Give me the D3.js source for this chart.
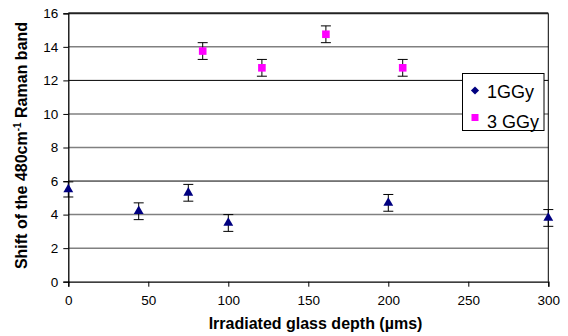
<!DOCTYPE html>
<html>
<head>
<meta charset="utf-8">
<script src="https://cdn.jsdelivr.net/npm/d3@7"></script>
<style>
  body { margin: 0; background: #fff; }
  text { font-family: "Liberation Sans", Arial, sans-serif; }
</style>
</head>
<body>
<svg width="568" height="336"></svg>
<script>
// 1 GGy series (triangles)
const depth1 = [0, 44, 75, 100, 200, 300];
const shift1 = [5.5, 4.2, 5.3, 3.5, 4.7, 3.8];
const err1 = [0.45, 0.5, 0.5, 0.5, 0.5, 0.5];

// 3 GGy series (squares)
const depth3 = [84, 121, 161, 209];
const shift3 = [13.75, 12.75, 14.75, 12.75];
const err3 = [0.5, 0.5, 0.5, 0.5];

const xTicks = [0, 50, 100, 150, 200, 250, 300];
const yTicks = [0, 2, 4, 6, 8, 10, 12, 14, 16];
const seriesNames = ["1GGy", "3 GGy"];

const svg = d3.select("svg"),
  plotLeft = 68.3, plotRight = 548.3, plotTop = 13.3, plotBottom = 281.7;

const x = d3.scaleLinear().domain([0, 300]).range([plotLeft, plotRight]);
const y = d3.scaleLinear().domain([0, 16]).range([plotBottom, plotTop]);

// gridlines
svg.append("g")
  .selectAll("line")
  .data(yTicks.filter(d => d > 0 && d < 16))
  .join("line")
  .attr("x1", plotLeft).attr("x2", plotRight)
  .attr("y1", d => y(d)).attr("y2", d => y(d))
  .attr("stroke", d => (d === 12 || d === 6) ? "#000" : "#808080")
  .attr("stroke-width", d => (d === 12 || d === 6) ? 1 : 1.5);

// frame top / right
svg.append("line").attr("x1", plotLeft).attr("x2", plotRight).attr("y1", y(16)).attr("y2", y(16))
  .attr("stroke", "#222").attr("stroke-width", 2);
svg.append("line").attr("x1", plotRight).attr("x2", plotRight).attr("y1", plotTop).attr("y2", plotBottom)
  .attr("stroke", "#000").attr("stroke-width", 1);

// axes
const yAxis = svg.append("g")
  .attr("transform", `translate(${plotLeft},0)`)
  .call(d3.axisLeft(y).tickValues(yTicks).tickSize(5).tickPadding(5).tickFormat(d3.format("d")));
const xAxis = svg.append("g")
  .attr("transform", `translate(0,${plotBottom})`)
  .call(d3.axisBottom(x).tickValues(xTicks).tickSize(5).tickPadding(9).tickFormat(d3.format("d")));

[xAxis, yAxis].forEach(a => {
  a.select(".domain").attr("stroke", "#000").attr("stroke-width", 1.3);
  a.selectAll(".tick line").attr("stroke", "#000");
  a.selectAll("text").attr("font-size", 13.5).attr("fill", "#000")
    .style("font-family", "'Liberation Sans', Arial, sans-serif");
});

// error bars
function errorBars(xs, ys, es) {
  const g = svg.append("g").attr("stroke", "#000").attr("stroke-width", 1);
  xs.forEach((d, i) => {
    const cx = x(d), y1 = y(ys[i] + es[i]), y2 = y(ys[i] - es[i]);
    g.append("line").attr("x1", cx).attr("x2", cx).attr("y1", y1).attr("y2", y2);
    g.append("line").attr("x1", cx - 5).attr("x2", cx + 5).attr("y1", y1).attr("y2", y1);
    g.append("line").attr("x1", cx - 5).attr("x2", cx + 5).attr("y1", y2).attr("y2", y2);
  });
}
errorBars(depth1, shift1, err1);
errorBars(depth3, shift3, err3);

// markers
const tri = d3.symbol().type(d3.symbolTriangle).size(42);
svg.append("g").selectAll("path")
  .data(depth1)
  .join("path")
  .attr("d", tri)
  .attr("transform", (d, i) => `translate(${x(d)},${y(shift1[i])})`)
  .attr("fill", "#000080");

svg.append("g").selectAll("rect")
  .data(depth3)
  .join("rect")
  .attr("x", d => x(d) - 3.8)
  .attr("y", (d, i) => y(shift3[i]) - 3.8)
  .attr("width", 7.6).attr("height", 7.6)
  .attr("fill", "#ff00ff");

// legend
const lg = svg.append("g").attr("transform", "translate(462.5,73.5)");
lg.append("rect").attr("width", 81.5).attr("height", 57)
  .attr("fill", "#fff").attr("stroke", "#000").attr("stroke-width", 1);
lg.append("rect")
  .attr("x", -2.9).attr("y", -2.9).attr("width", 5.8).attr("height", 5.8)
  .attr("transform", "translate(12.5,17) rotate(45)")
  .attr("fill", "#000080");
lg.append("rect").attr("x", 9).attr("y", 40.5).attr("width", 7).attr("height", 7)
  .attr("fill", "#ff00ff");
lg.selectAll("text.lbl")
  .data(seriesNames)
  .join("text")
  .attr("class", "lbl")
  .attr("x", 24.5)
  .attr("y", (d, i) => 24.5 + i * 29.5)
  .attr("font-size", 18)
  .attr("fill", "#000")
  .text(d => d);

// axis titles
svg.append("text")
  .attr("x", 315.5).attr("y", 329)
  .attr("text-anchor", "middle")
  .attr("font-size", 16).attr("font-weight", "bold")
  .text("Irradiated glass depth (\u00b5ms)");

const yt = svg.append("text")
  .attr("transform", "translate(27,145.5) rotate(-90)")
  .attr("text-anchor", "middle")
  .attr("font-size", 16).attr("font-weight", "bold");
yt.append("tspan").text("Shift of the 480cm");
yt.append("tspan").attr("dy", -6).attr("font-size", 10).text("-1");
yt.append("tspan").attr("dy", 6).text(" Raman band");
</script>
</body>
</html>
